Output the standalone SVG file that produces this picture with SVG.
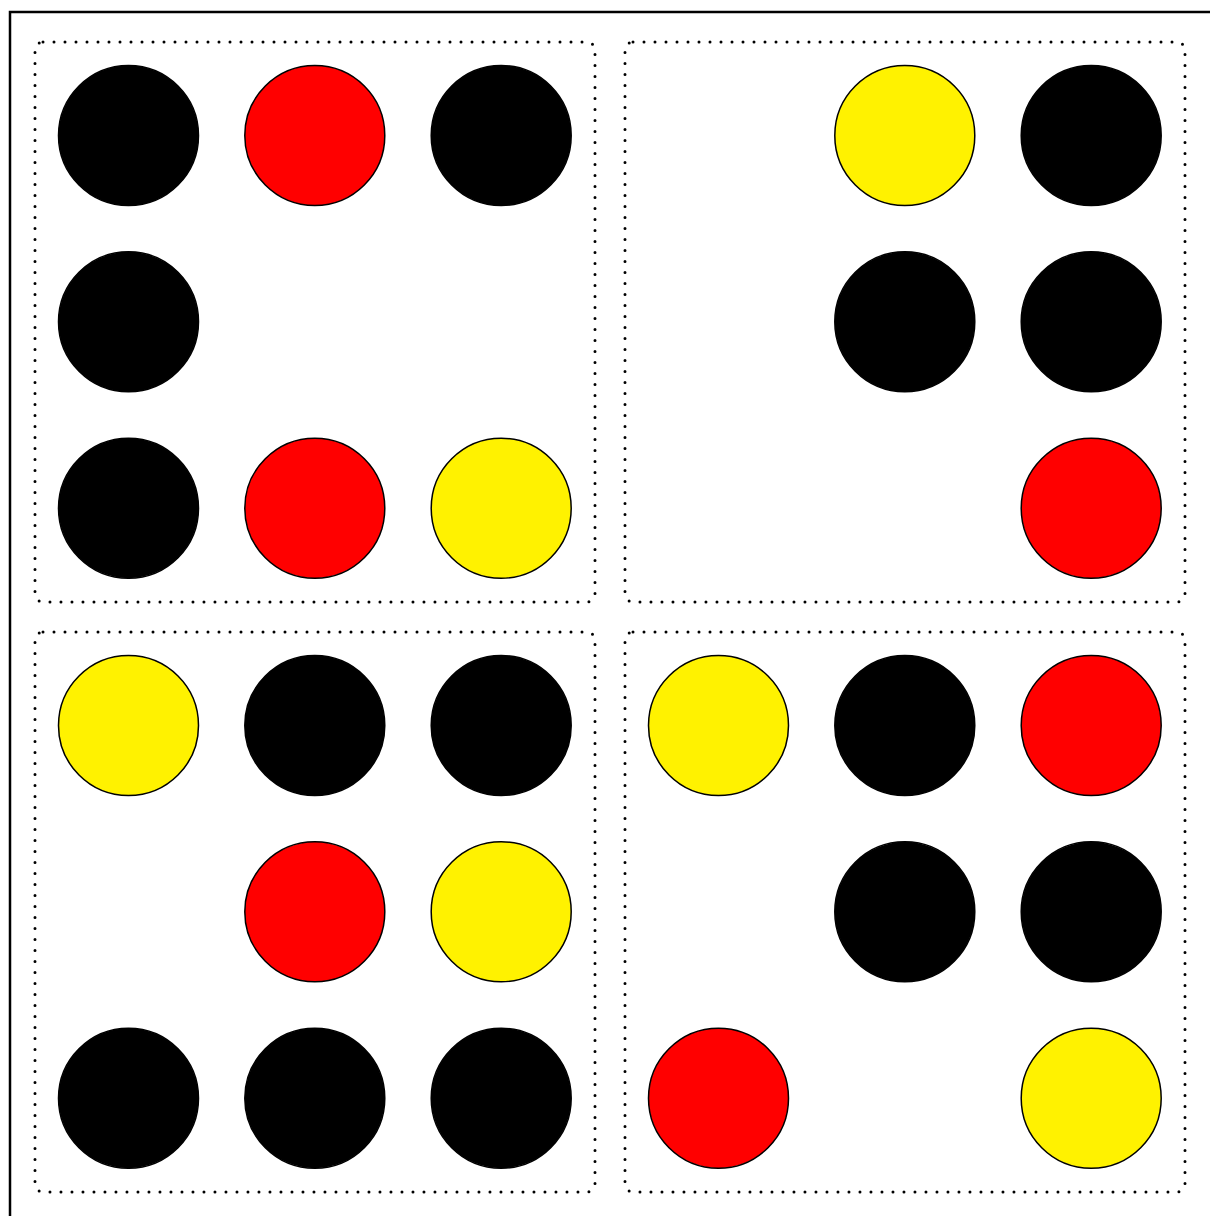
<svg xmlns="http://www.w3.org/2000/svg" width="1210" height="1216" viewBox="0 0 1210 1216">
<style>
.frame{fill:none;stroke:#000;stroke-width:2.5}
.panel{fill:none;stroke:#000;stroke-width:3;stroke-dasharray:0 11;stroke-linecap:round}
.k{fill:#000;stroke:#000;stroke-width:1.5}
.r{fill:#ff0000;stroke:#000;stroke-width:1.5}
.y{fill:#fff200;stroke:#000;stroke-width:1.5}
</style>
<rect width="1210" height="1216" fill="#fff"/>
<rect class="frame" x="10" y="12" width="1300" height="1300"/>
<g id="panel-tl">
<rect class="panel" x="35" y="42" width="560" height="560" rx="8"/>
<circle class="k" cx="128.5" cy="135.5" r="70"/>
<circle class="r" cx="314.8" cy="135.5" r="70"/>
<circle class="k" cx="501.2" cy="135.5" r="70"/>
<circle class="k" cx="128.5" cy="321.8" r="70"/>
<circle class="k" cx="128.5" cy="508.2" r="70"/>
<circle class="r" cx="314.8" cy="508.2" r="70"/>
<circle class="y" cx="501.2" cy="508.2" r="70"/>
</g>
<g id="panel-tr">
<rect class="panel" x="625" y="42" width="560" height="560" rx="8"/>
<circle class="y" cx="904.8" cy="135.5" r="70"/>
<circle class="k" cx="1091.2" cy="135.5" r="70"/>
<circle class="k" cx="904.8" cy="321.8" r="70"/>
<circle class="k" cx="1091.2" cy="321.8" r="70"/>
<circle class="r" cx="1091.2" cy="508.2" r="70"/>
</g>
<g id="panel-bl">
<rect class="panel" x="35" y="632" width="560" height="560" rx="8"/>
<circle class="y" cx="128.5" cy="725.5" r="70"/>
<circle class="k" cx="314.8" cy="725.5" r="70"/>
<circle class="k" cx="501.2" cy="725.5" r="70"/>
<circle class="r" cx="314.8" cy="911.8" r="70"/>
<circle class="y" cx="501.2" cy="911.8" r="70"/>
<circle class="k" cx="128.5" cy="1098.2" r="70"/>
<circle class="k" cx="314.8" cy="1098.2" r="70"/>
<circle class="k" cx="501.2" cy="1098.2" r="70"/>
</g>
<g id="panel-br">
<rect class="panel" x="625" y="632" width="560" height="560" rx="8"/>
<circle class="y" cx="718.5" cy="725.5" r="70"/>
<circle class="k" cx="904.8" cy="725.5" r="70"/>
<circle class="r" cx="1091.2" cy="725.5" r="70"/>
<circle class="k" cx="904.8" cy="911.8" r="70"/>
<circle class="k" cx="1091.2" cy="911.8" r="70"/>
<circle class="r" cx="718.5" cy="1098.2" r="70"/>
<circle class="y" cx="1091.2" cy="1098.2" r="70"/>
</g>
<g id="connectors"></g>
</svg>
